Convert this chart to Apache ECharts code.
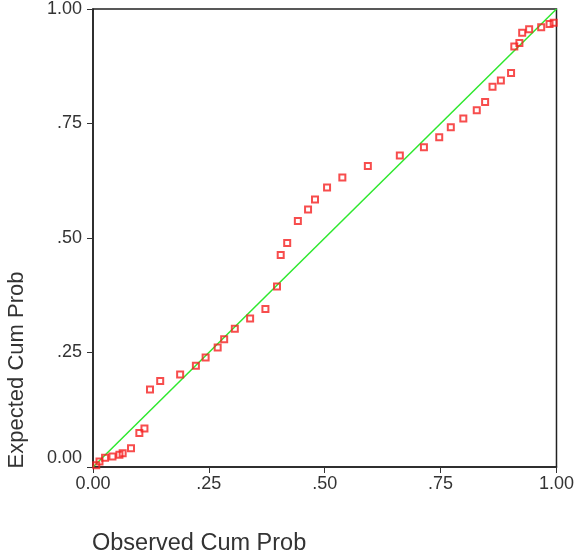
<!DOCTYPE html>
<html>
<head>
<meta charset="utf-8">
<script src="https://cdn.jsdelivr.net/npm/echarts@6/dist/echarts.min.js"></script>
<style>
html,body{margin:0;padding:0;background:#fff;}
#chart{width:577px;height:556px;}
</style>
</head>
<body>
<div id="chart"></div>
<script>
var observedCumProb = [0.007,0.014,0.026,0.042,0.057,0.064,0.082,0.100,0.111,0.123,0.145,0.188,0.222,0.243,0.269,0.283,0.306,0.339,0.372,0.397,0.405,0.419,0.442,0.464,0.479,0.505,0.538,0.593,0.662,0.714,0.747,0.772,0.799,0.828,0.846,0.862,0.880,0.902,0.909,0.920,0.926,0.941,0.967,0.985,0.994];
var expectedCumProb = [0.004,0.012,0.020,0.023,0.027,0.030,0.041,0.074,0.084,0.169,0.188,0.202,0.221,0.239,0.261,0.279,0.302,0.324,0.345,0.394,0.463,0.489,0.537,0.562,0.584,0.610,0.632,0.657,0.680,0.698,0.720,0.742,0.761,0.779,0.797,0.830,0.844,0.860,0.918,0.926,0.948,0.956,0.960,0.967,0.970];
var refLineX = [0, 1];
var refLineY = [0, 1];
var xTickLabels = {0:'0.00',0.25:'.25',0.5:'.50',0.75:'.75',1:'1.00'};
var yTickLabels = {0:'0.00',0.25:'.25',0.5:'.50',0.75:'.75',1:'1.00'};
var xTitle = 'Observed Cum Prob';
var yTitle = 'Expected Cum Prob';

var points = observedCumProb.map(function(x,i){return [x, expectedCumProb[i]];});
var line = refLineX.map(function(x,i){return [x, refLineY[i]];});

var chart = echarts.init(document.getElementById('chart'), null, {renderer:'canvas'});
var font = '"Liberation Sans", Arial, sans-serif';
chart.setOption({
  animation:false,
  backgroundColor:'#ffffff',
  grid:{left:93,right:19,top:8,bottom:89,show:true,borderColor:'#222',borderWidth:1.5,backgroundColor:'transparent'},
  xAxis:{type:'value',min:0,max:1,interval:0.25,
    axisLine:{show:true,lineStyle:{color:'#222',width:1.5}},
    axisTick:{show:true,length:6,lineStyle:{color:'#333',width:1}},
    axisLabel:{color:'#333',fontSize:18,fontFamily:font,margin:8,formatter:function(v){return xTickLabels[v];}},
    splitLine:{show:false}},
  yAxis:{type:'value',min:0,max:1,interval:0.25,
    axisLine:{show:true,lineStyle:{color:'#222',width:1.5}},
    axisTick:{show:true,length:6,lineStyle:{color:'#333',width:1}},
    axisLabel:{color:'#333',fontSize:18,fontFamily:font,margin:11,
      formatter:function(v){return v===0 ? '{z|'+yTickLabels[v]+'}' : yTickLabels[v];},
      rich:{z:{color:'#333',fontSize:18,fontFamily:font,padding:[0,0,18,0]}}},
    splitLine:{show:false}},
  graphic:[
    {type:'text',x:17,y:370,rotation:Math.PI/2,style:{text:yTitle,fill:'#333',font:'22px '+font,textAlign:'center',textVerticalAlign:'middle'}},
    {type:'text',x:92,y:544,style:{text:xTitle,fill:'#333',font:'23.5px '+font,textAlign:'left',textVerticalAlign:'middle'}}
  ],
  series:[
    {type:'line',data:line,symbol:'none',silent:true,z:2,lineStyle:{color:'#2ee82e',width:1.5}},
    {type:'scatter',data:points,symbol:'rect',symbolSize:6,z:3,
     itemStyle:{color:'rgba(255,255,255,0)',borderColor:'#f52020',borderWidth:2}}
  ]
});
</script>
</body>
</html>
